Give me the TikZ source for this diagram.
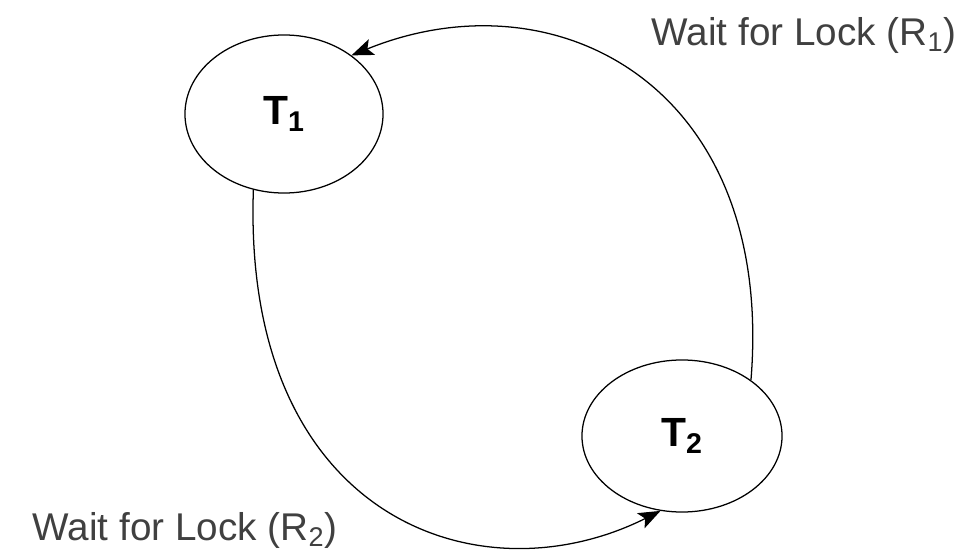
\documentclass[tikz,border=0pt]{standalone}
\usepackage{fontspec}
\setmainfont{Liberation Sans}
\usetikzlibrary{arrows.meta,shapes.geometric}
\begin{document}
\begin{tikzpicture}[x=0.025cm,y=-0.025cm,
	txn/.style={draw,ellipse,line width=0.9pt,inner sep=0pt,font=\fontsize{29}{32}\selectfont\bfseries},
	waitedge/.style={line width=0.9pt,-{Stealth[length=5.5mm,width=4.2mm,inset=1.2mm]}},
	waitlab/.style={font=\fontsize{27.5}{30}\selectfont,text=black!75}]
	\useasboundingbox (0,0) rectangle (969,558);
	\node[txn,minimum width=4.95cm,minimum height=3.95cm] (t1) at (284,114) {T\textsubscript{1}};
	\node[txn,minimum width=5cm,minimum height=3.8cm] (t2) at (682,436) {T\textsubscript{2}};
	\node[waitlab] (r1lab) at (804,35) {Wait for Lock (R\textsubscript{1})};
	\node[waitlab] (r2lab) at (185,530) {Wait for Lock (R\textsubscript{2})};
	\draw[waitedge] (t2.39) .. controls (775,87) and (557,-28) .. (t1.41);
	\draw[waitedge] (t1.248) .. controls (242,518) and (478,602) .. (t2.254);
\end{tikzpicture}
\end{document}
